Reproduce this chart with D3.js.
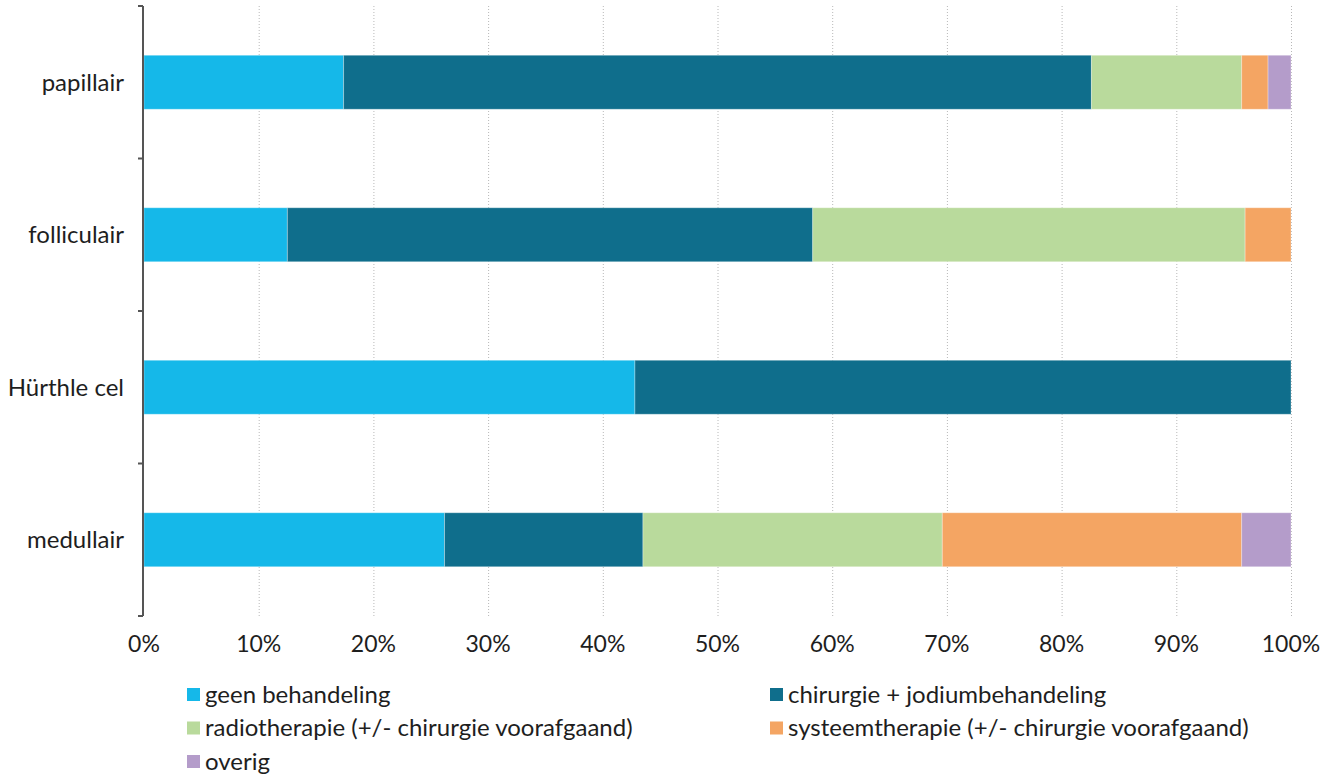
<!DOCTYPE html>
<html>
<head>
<meta charset="utf-8">
<script src="https://cdn.jsdelivr.net/npm/d3@7"></script>
<style>
    body { margin: 0; background: #fff; }
    svg text { font-family: Lato, "Noto Sans", sans-serif; fill: #1e1e1e; }
</style>
</head>
<body>
<div id="chart"></div>
<script>
// data
let categories = ["papillair", "folliculair", "Hürthle cel", "medullair"];
let seriesNames = [
    "geen behandeling",
    "chirurgie + jodiumbehandeling",
    "radiotherapie (+/- chirurgie voorafgaand)",
    "systeemtherapie (+/- chirurgie voorafgaand)",
    "overig"
];
let geen = [17.4, 12.5, 42.8, 26.2];
let chirurgie = [65.2, 45.8, 57.2, 17.3];
let radio = [13.1, 37.7, 0, 26.1];
let systeem = [2.3, 4.0, 0, 26.1];
let overig = [2.0, 0, 0, 4.3];
let xTicks = [0, 10, 20, 30, 40, 50, 60, 70, 80, 90, 100];
let colors = ["#15b8e9", "#0f6e8c", "#b9da9c", "#f4a563", "#b49cca"];

let width = 1339, height = 775;
let margin = { top: 6, right: 48, bottom: 159, left: 144 };

let svg = d3.select("#chart").append("svg")
    .attr("width", width)
    .attr("height", height);

let x = d3.scaleLinear()
    .domain([0, 100])
    .range([margin.left, width - margin.right]);

let y = d3.scaleBand()
    .domain(categories)
    .range([margin.top, height - margin.bottom])
    .paddingInner(0.646)
    .paddingOuter(0.323);

// gridlines
svg.append("g")
    .selectAll("line")
    .data(xTicks.slice(1))
    .enter().append("line")
    .attr("x1", d => x(d) + 0.5)
    .attr("x2", d => x(d) + 0.5)
    .attr("y1", margin.top)
    .attr("y2", height - margin.bottom)
    .attr("stroke", "#b8b8b8")
    .attr("stroke-width", 1)
    .attr("stroke-dasharray", "1,2");

// stacked bars
let table = categories.map((c, i) => ({
    cat: c, s0: geen[i], s1: chirurgie[i], s2: radio[i], s3: systeem[i], s4: overig[i]
}));
let keys = ["s0", "s1", "s2", "s3", "s4"];
let stack = d3.stack().keys(keys)(table);

svg.append("g")
    .selectAll("g")
    .data(stack)
    .enter().append("g")
    .attr("fill", (d, i) => colors[i])
    .selectAll("rect")
    .data(d => d.filter(v => v[1] > v[0]))
    .enter().append("rect")
    .attr("x", d => x(d[0]))
    .attr("y", d => y(d.data.cat))
    .attr("width", d => x(d[1]) - x(d[0]))
    .attr("height", y.bandwidth())
    .attr("stroke", "#fff")
    .attr("stroke-opacity", 0.3)
    .attr("stroke-width", 1);

// y axis
let yAxis = svg.append("g")
    .attr("transform", "translate(" + (margin.left - 1) + ",0)");
yAxis.append("line")
    .attr("x1", 0).attr("x2", 0)
    .attr("y1", margin.top).attr("y2", height - margin.bottom)
    .attr("stroke", "#555").attr("stroke-width", 2);
let step = (height - margin.bottom - margin.top) / categories.length;
yAxis.selectAll(".tick")
    .data(d3.range(categories.length + 1))
    .enter().append("line")
    .attr("x1", -5).attr("x2", 0)
    .attr("y1", i => margin.top + i * step)
    .attr("y2", i => margin.top + i * step)
    .attr("stroke", "#555").attr("stroke-width", 2);
yAxis.selectAll("text")
    .data(categories)
    .enter().append("text")
    .attr("x", -19)
    .attr("y", d => y(d) + y.bandwidth() / 2)
    .attr("dy", "0.35em")
    .attr("text-anchor", "end")
    .style("font-size", "24px")
    .text(d => d);

// x tick labels
svg.append("g")
    .selectAll("text")
    .data(xTicks)
    .enter().append("text")
    .attr("x", d => x(d))
    .attr("y", 652)
    .attr("text-anchor", "middle")
    .style("font-size", "23px")
    .text(d => d + "%");

// legend
let legendPos = [[187, 694.5], [770, 694.5], [187, 728], [770, 728], [187, 761.5]];
let legend = svg.append("g")
    .selectAll("g")
    .data(seriesNames)
    .enter().append("g")
    .attr("transform", (d, i) => "translate(" + legendPos[i][0] + "," + legendPos[i][1] + ")");
legend.append("rect")
    .attr("x", 0).attr("y", -6.5)
    .attr("width", 13).attr("height", 13)
    .attr("fill", (d, i) => colors[i]);
legend.append("text")
    .attr("x", 18)
    .attr("y", 0)
    .attr("dy", "0.35em")
    .style("font-size", "24px")
    .text(d => d);
</script>
</body>
</html>
